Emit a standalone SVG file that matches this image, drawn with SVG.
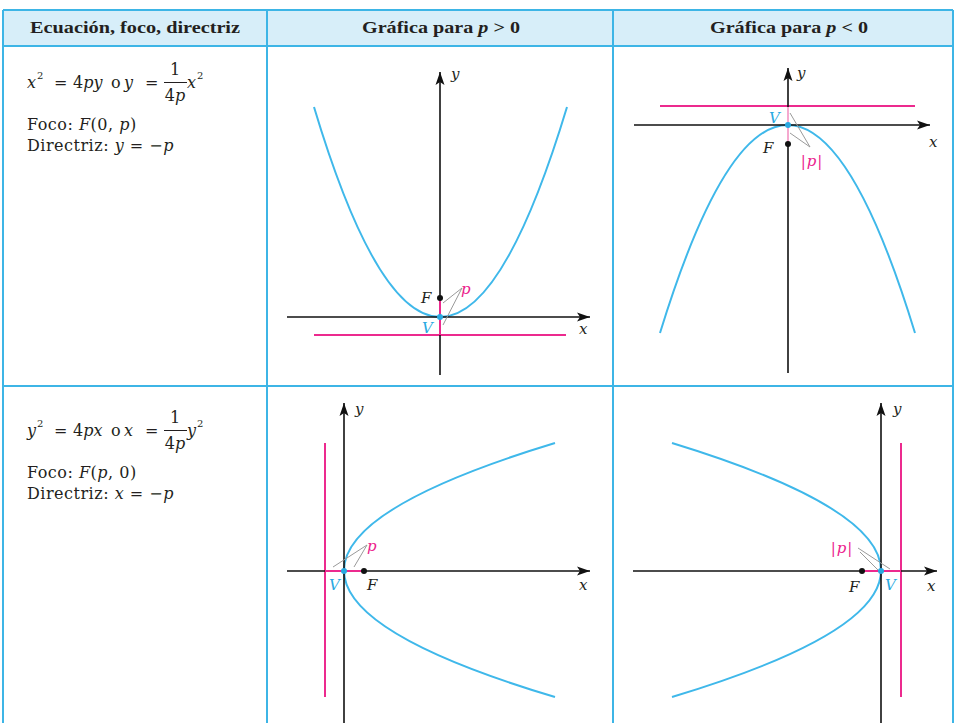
<svg xmlns="http://www.w3.org/2000/svg" width="954" height="723" viewBox="0 0 954 723">
<style>
text{font-family:"DejaVu Serif","Liberation Serif",serif;font-size:16px;fill:#231f20}
.t{letter-spacing:0.5px}
.h{font-family:"Liberation Serif",serif;font-weight:bold;font-size:16px}
.i{font-style:italic}
.sup{font-size:10px}
.grid{stroke:#3db5e6;stroke-width:2;fill:none}
.ax{stroke:#111;stroke-width:1.6;fill:none}
.par{stroke:#3fb8ea;stroke-width:2;fill:none}
.dir{stroke:#ec2a8e;stroke-width:2;fill:none}
.seg{stroke:#ec2a8e;stroke-width:2}
.segl{stroke:#f5a9cf;stroke-width:2}
.ptr{stroke:#9a9a9a;stroke-width:1;fill:none}
.lb{font-style:italic;font-size:15px}
.blue{fill:#29a9e1}
.mag{fill:#ec1c8c}
</style>
<defs>
<marker id="arr" markerUnits="userSpaceOnUse" markerWidth="14" markerHeight="10" refX="13" refY="5" orient="auto">
<path d="M0,0.5 L13,5 L0,9.5 L3,5 z" fill="#111"/>
</marker>
</defs>

<g id="table">
<rect x="3" y="10" width="950" height="36" fill="#d7eef9"/>
<path class="grid" d="M3,10 H953 M3,46 H953 M3,386 H953 M3,10 V723 M267,10 V723 M613,10 V723 M953,10 V723"/>
<text class="h" x="135" y="33" text-anchor="middle" textLength="210" lengthAdjust="spacingAndGlyphs">Ecuación, foco, directriz</text>
<text class="h" x="441" y="33" text-anchor="middle" textLength="158" lengthAdjust="spacingAndGlyphs">Gráfica para <tspan class="i">p</tspan> &gt; 0</text>
<text class="h" x="789" y="33" text-anchor="middle" textLength="158" lengthAdjust="spacingAndGlyphs">Gráfica para <tspan class="i">p</tspan> &lt; 0</text>
</g>

<g id="eq1">
<text class="i" x="27" y="88">x</text>
<text class="sup" x="37" y="79">2</text>
<text x="54" y="88">=</text>
<text x="73" y="88">4<tspan class="i">py</tspan></text>
<text x="111" y="88">o</text>
<text class="i" x="124" y="88">y</text>
<text x="145" y="88">=</text>
<text x="175" y="75" text-anchor="middle">1</text>
<line x1="164" y1="82.5" x2="187" y2="82.5" stroke="#231f20" stroke-width="1"/>
<text x="175" y="101" text-anchor="middle">4<tspan class="i">p</tspan></text>
<text class="i" x="187" y="88">x</text>
<text class="sup" x="197" y="79">2</text>
<text class="t" x="27" y="130">Foco: <tspan class="i">F</tspan>(0, <tspan class="i">p</tspan>)</text>
<text class="t" x="27" y="151">Directriz: <tspan class="i">y</tspan> = −<tspan class="i">p</tspan></text>
</g>

<g id="eq2">
<text class="i" x="27" y="436">y</text>
<text class="sup" x="37" y="427">2</text>
<text x="54" y="436">=</text>
<text x="73" y="436">4<tspan class="i">px</tspan></text>
<text x="111" y="436">o</text>
<text class="i" x="124" y="436">x</text>
<text x="145" y="436">=</text>
<text x="175" y="423" text-anchor="middle">1</text>
<line x1="164" y1="430.5" x2="187" y2="430.5" stroke="#231f20" stroke-width="1"/>
<text x="175" y="449" text-anchor="middle">4<tspan class="i">p</tspan></text>
<text class="i" x="187" y="436">y</text>
<text class="sup" x="197" y="427">2</text>
<text class="t" x="27" y="478">Foco: <tspan class="i">F</tspan>(<tspan class="i">p</tspan>, 0)</text>
<text class="t" x="27" y="499">Directriz: <tspan class="i">x</tspan> = −<tspan class="i">p</tspan></text>
</g>

<g id="graph-up">
<path class="par" d="M314,107 Q440,527 567,107"/>
<line class="dir" x1="314" y1="335" x2="566" y2="335"/>
<line class="ax" x1="440" y1="375" x2="440" y2="72" marker-end="url(#arr)"/>
<line class="ax" x1="287" y1="317" x2="590" y2="317" marker-end="url(#arr)"/>
<line class="seg" x1="440" y1="298" x2="440" y2="335"/>
<circle cx="440" cy="298" r="3" fill="#111"/>
<circle cx="440" cy="317" r="3" fill="#29a9e1"/>
<path class="ptr" d="M443,303 L462,288 L443,325"/>
<text class="lb" x="451" y="79">y</text>
<text class="lb" x="579" y="334">x</text>
<text class="lb" x="421" y="303">F</text>
<text class="lb blue" x="422" y="333">V</text>
<text class="lb mag" x="461" y="294">p</text>
</g>

<g id="graph-down">
<path class="par" d="M660,333 Q788,-83 915,333"/>
<line class="dir" x1="660" y1="106" x2="915" y2="106"/>
<line class="ax" x1="788" y1="373" x2="788" y2="68" marker-end="url(#arr)"/>
<line class="ax" x1="634" y1="125" x2="930" y2="125" marker-end="url(#arr)"/>
<line class="segl" x1="788" y1="107" x2="788" y2="144"/>
<circle cx="788" cy="144" r="3" fill="#111"/>
<circle cx="788" cy="125" r="3" fill="#29a9e1"/>
<path class="ptr" d="M790,113 L810,147 L790,133"/>
<text class="lb" x="797" y="78">y</text>
<text class="lb" x="929" y="147">x</text>
<text class="lb" x="763" y="153">F</text>
<text class="lb blue" x="769" y="123">V</text>
<text class="lb mag" x="812" y="166" text-anchor="middle" letter-spacing="1">|p|</text>
</g>

<g id="graph-right">
<path class="par" d="M555,443 Q133,571 555,697"/>
<line class="dir" x1="325" y1="443" x2="325" y2="697"/>
<line class="ax" x1="344" y1="723" x2="344" y2="403" marker-end="url(#arr)"/>
<line class="ax" x1="287" y1="571" x2="590" y2="571" marker-end="url(#arr)"/>
<line class="seg" x1="325" y1="571" x2="364" y2="571"/>
<circle cx="364" cy="571" r="3" fill="#111"/>
<circle cx="344" cy="571" r="3" fill="#29a9e1"/>
<path class="ptr" d="M333,567 L367,545 L354,567"/>
<text class="lb" x="355" y="414">y</text>
<text class="lb" x="579" y="590">x</text>
<text class="lb" x="367" y="590">F</text>
<text class="lb blue" x="329" y="590">V</text>
<text class="lb mag" x="367" y="551">p</text>
</g>

<g id="graph-left">
<path class="par" d="M672,443 Q1090,571 672,697"/>
<line class="dir" x1="901" y1="443" x2="901" y2="697"/>
<line class="ax" x1="881" y1="723" x2="881" y2="403" marker-end="url(#arr)"/>
<line class="ax" x1="633" y1="571" x2="937" y2="571" marker-end="url(#arr)"/>
<line class="seg" x1="862" y1="571" x2="901" y2="571"/>
<circle cx="862" cy="571" r="3" fill="#111"/>
<circle cx="881" cy="571" r="3" fill="#29a9e1"/>
<path class="ptr" d="M860,552 L878,570 M858,548 L890,569"/>
<text class="lb" x="893" y="414">y</text>
<text class="lb" x="927" y="591">x</text>
<text class="lb" x="849" y="592">F</text>
<text class="lb blue" x="885" y="590">V</text>
<text class="lb mag" x="842" y="553" text-anchor="middle" letter-spacing="1">|p|</text>
</g>
</svg>
